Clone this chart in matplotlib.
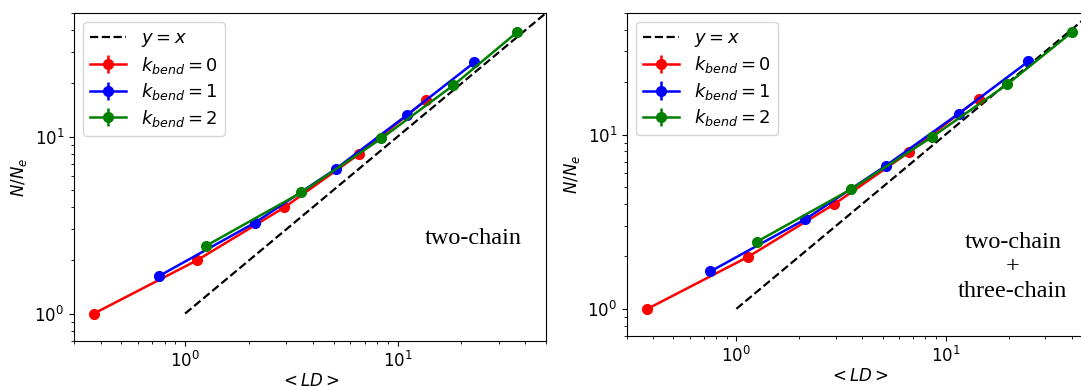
import matplotlib
matplotlib.use('Agg')
import matplotlib.pyplot as plt

# left panel: two-chain
ld_two_k0 = [0.372, 1.137, 2.93, 6.58, 13.6]
nne_two_k0 = [1.0, 2.0, 3.98, 7.96, 16.1]
ld_two_k1 = [0.753, 2.13, 5.11, 11.07, 23.0]
nne_two_k1 = [1.63, 3.26, 6.56, 13.25, 26.3]
ld_two_k2 = [1.25, 3.53, 8.40, 18.3, 36.7]
nne_two_k2 = [2.41, 4.84, 9.78, 19.5, 39.1]

# right panel: two-chain + three-chain
ld_three_k0 = [0.376, 1.14, 2.94, 6.72, 14.4]
nne_three_k0 = [1.0, 1.99, 3.99, 7.95, 16.1]
ld_three_k1 = [0.752, 2.14, 5.17, 11.56, 24.9]
nne_three_k1 = [1.64, 3.27, 6.61, 13.2, 26.3]
ld_three_k2 = [1.256, 3.54, 8.62, 19.7, 40.2]
nne_three_k2 = [2.43, 4.86, 9.69, 19.4, 38.7]

# error bars are too small to see
yerr_zero = [0.0, 0.0, 0.0, 0.0, 0.0]

ref_line = [1.0, 50.0]
kbend_labels = [r'$k_{bend} = 0$', r'$k_{bend} = 1$', r'$k_{bend} = 2$']
colors = ['red', 'blue', 'green']
FS = 12

fig = plt.figure(figsize=(10.81, 3.86), dpi=100)
ax1 = fig.add_axes([0.0685, 0.1166, 0.4366, 0.8497])
ax2 = fig.add_axes([0.580, 0.130, 0.430, 0.837])

panels = [
    (ax1, [(ld_two_k0, nne_two_k0), (ld_two_k1, nne_two_k1), (ld_two_k2, nne_two_k2)],
     'two-chain', (0.845, 0.311)),
    (ax2, [(ld_three_k0, nne_three_k0), (ld_three_k1, nne_three_k1), (ld_three_k2, nne_three_k2)],
     'two-chain\n+\nthree-chain', (0.830, 0.2136)),
]

for ax, series, note, pos in panels:
    ax.plot(ref_line, ref_line, '--', color='black', lw=1.6, label=r'$y = x$')
    for (x, y), lab, c in zip(series, kbend_labels, colors):
        ax.errorbar(x, y, yerr=yerr_zero, fmt='-o', color=c, lw=1.8, ms=7, label=lab)
    ax.set_xscale('log')
    ax.set_yscale('log')
    ax.set_xlim(0.3, 50)
    ax.set_ylim(0.7, 50)
    ax.set_xlabel(r'$<LD>$', fontsize=FS, labelpad=1)
    ax.set_ylabel(r'$N/N_e$', fontsize=FS)
    ax.tick_params(labelsize=FS)
    ax.legend(loc='upper left', fontsize=13, labelspacing=0.3)
    ax.text(pos[0], pos[1], note, transform=ax.transAxes, ha='center', va='center',
            family='Liberation Serif', fontsize=17.5, linespacing=1.2)

plt.savefig('out.png', dpi=100)
